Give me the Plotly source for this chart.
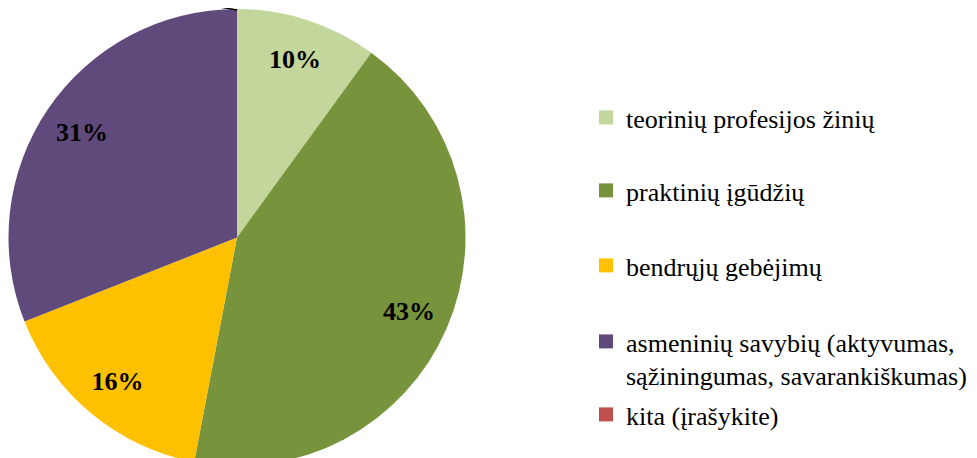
import plotly.graph_objects as go

categories = ["teorinių profesijos žinių", "praktinių įgūdžių", "bendrųjų gebėjimų",
              "asmeninių savybių (aktyvumas,<br>sąžiningumas, savarankiškumas)", "kita (įrašykite)"]
values = [10, 43, 16, 31, 0]
colors = ["#C3D69B", "#77933C", "#FFC000", "#604A7B", "#C0504D"]
pct_labels = [f"{v}%" if v else "" for v in values]

W, H = 977, 458
OFF = 8  # page body margin
mt, mb = 1, 0
ph = H - mt - mb
def py(y):
    return 1 - (y - OFF - mt) / ph
def px(x):
    return (x - OFF) / W

dom = dict(x=[0, 458 / W], y=[0, 1])
font = "Liberation Serif"

fig = go.Figure()
fig.add_trace(go.Pie(
    labels=categories, values=values, sort=False, direction="clockwise", rotation=0,
    marker=dict(colors=colors, line=dict(width=0)), textinfo="none",
    showlegend=False, domain=dom, hoverinfo="label+percent"))
fig.add_trace(go.Pie(
    labels=categories, values=values, sort=False, direction="clockwise", rotation=0,
    hole=0.64, marker=dict(colors=["rgba(0,0,0,0)"] * len(values), line=dict(width=0)),
    text=pct_labels, textinfo="text", textposition="inside", insidetextorientation="horizontal",
    textfont=dict(family=font, size=26, color="black", weight="bold"),
    showlegend=False, domain=dom, hoverinfo="skip"))

legend_y = [117.5, 190.5, 265.5, 335, 414.5]
legends = {}
for i, (c, col) in enumerate(zip(categories, colors)):
    name = "legend" if i == 0 else f"legend{i+1}"
    fig.add_trace(go.Scatter(x=[None], y=[None], mode="markers", name=c,
                             marker=dict(symbol="square", size=14, color=col),
                             legend=name, showlegend=True))
    legends[name] = dict(
        x=px(586), xanchor="left",
        y=py(legend_y[i] - 17) if i == 3 else py(legend_y[i]),
        yanchor="top" if i == 3 else "middle",
        valign="top", font=dict(family=font, size=26, color="black"),
        bgcolor="rgba(0,0,0,0)", borderwidth=0)

fig.add_shape(type="line", xref="paper", yref="paper",
              x0=px(180), y0=py(0), x1=px(237), y1=py(10),
              line=dict(color="black", width=1.5))

fig.update_layout(width=W, height=H, margin=dict(l=0, r=0, t=mt, b=mb),
                  font=dict(family=font, size=26, color="black"),
                  paper_bgcolor="white", plot_bgcolor="white",
                  xaxis=dict(visible=False), yaxis=dict(visible=False),
                  **legends)
fig.write_html("out.html")
